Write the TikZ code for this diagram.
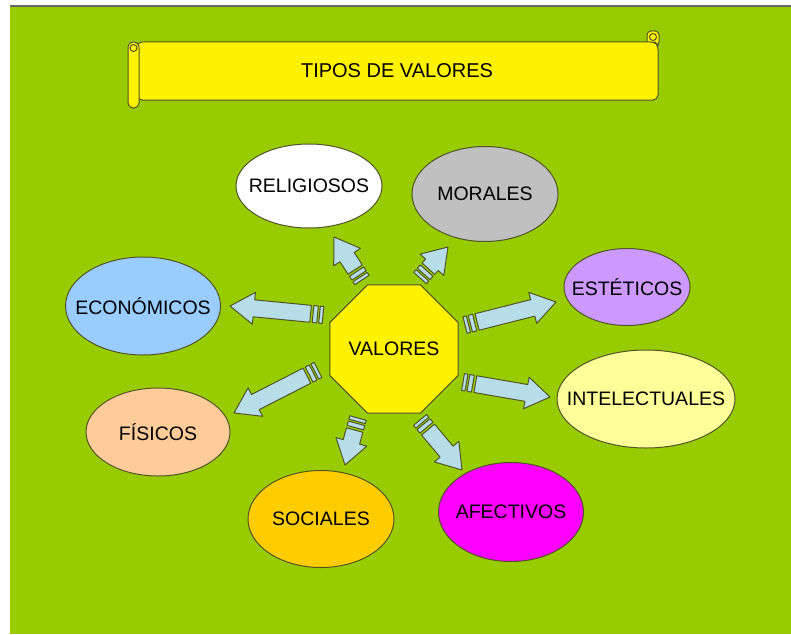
\documentclass[tikz,border=0pt]{standalone}
\usepackage{fontspec}
\setmainfont{Liberation Sans}
\usetikzlibrary{shapes.geometric,calc}

\definecolor{fondo}{RGB}{153,204,0}
\definecolor{borde}{RGB}{80,84,40}
\definecolor{celeste}{RGB}{183,222,232}
\definecolor{gris}{RGB}{192,192,192}
\definecolor{lila}{RGB}{204,153,255}
\definecolor{crema}{RGB}{255,255,153}
\definecolor{magenta}{RGB}{255,0,255}
\definecolor{naranja}{RGB}{255,204,0}
\definecolor{durazno}{RGB}{255,204,153}
\definecolor{azulito}{RGB}{153,204,255}

% flecha rayada: cola (#1) -> punta (#2)
\newcommand{\flecha}[2]{%
  \coordinate (#1s1) at ($(#1)!3.5pt!(#2)$);
  \coordinate (#1s2) at ($(#1)!5.5pt!(#2)$);
  \coordinate (#1s3) at ($(#1)!10pt!(#2)$);
  \coordinate (#1s4) at ($(#1)!12.5pt!(#2)$);
  \coordinate (#1hb) at ($(#2)!24pt!(#1)$);
  \draw[raya] ($(#1)!8.5pt!90:(#2)$) -- ($(#1s1)!8.5pt!90:(#2)$) -- ($(#1s1)!8.5pt!-90:(#2)$) -- ($(#1)!8.5pt!-90:(#2)$) -- cycle;
  \draw[raya] ($(#1s2)!8.5pt!90:(#2)$) -- ($(#1s3)!8.5pt!90:(#2)$) -- ($(#1s3)!8.5pt!-90:(#2)$) -- ($(#1s2)!8.5pt!-90:(#2)$) -- cycle;
  \draw[raya] ($(#1s4)!8.5pt!90:(#2)$) -- ($(#1hb)!8.5pt!90:(#2)$) -- ($(#1hb)!16pt!90:(#2)$) -- (#2)
    -- ($(#1hb)!16pt!-90:(#2)$) -- ($(#1hb)!8.5pt!-90:(#2)$) -- ($(#1s4)!8.5pt!-90:(#2)$) -- cycle;
}

\begin{document}
\begin{tikzpicture}[x=1pt,y=-1pt, font=\fontsize{19.5}{23}\selectfont,
  valor/.style={ellipse, draw=borde, line width=1pt, inner sep=0pt},
  raya/.style={fill=celeste, draw=borde, line width=1pt, line join=round},
  rollo/.style={fill=yellow, draw=borde, line width=1pt}]
\useasboundingbox (0,0) rectangle (791,634);
\fill[white] (0,0) rectangle (791,634);
\fill[fondo] (10,7) rectangle (791,634);
\draw[gray!80!black, line width=2pt] (10,6) -- (791,6);

% pergamino del titulo
\draw[rollo, rounded corners=4] (647,31) rectangle (659,46);
\draw[rollo] (653,37) circle (3.5);
\draw[rollo, rounded corners=5] (137,42) -- (655,42) -- (658,45) -- (658,100) -- (137,100) -- cycle;
\draw[rollo, rounded corners=5] (128,42) rectangle (139,108);
\draw[rollo] (133.5,48) circle (3.5);
\node[font=\fontsize{20}{24}\selectfont] (titulo) at (397,71) {TIPOS DE VALORES};

% centro
\node[regular polygon, regular polygon sides=8, minimum size=138, inner sep=0pt, fill=yellow, draw=borde,
  line width=1pt] (valores) at (394,349) {VALORES};

% tipos
\node[valor, fill=white, minimum width=146, minimum height=84, label=center:RELIGIOSOS] (religiosos) at (309,186) {};
\node[valor, fill=gris, minimum width=146, minimum height=95, label=center:MORALES] (morales) at (485,194) {};
\node[valor, fill=lila, minimum width=126, minimum height=77, label=center:ESTÉTICOS] (esteticos) at (627,287) {};
\node[valor, fill=crema, minimum width=178, minimum height=98, label=center:INTELECTUALES] (intelectuales) at (646,399) {};
\node[valor, fill=magenta, minimum width=145, minimum height=99, label=center:AFECTIVOS] (afectivos) at (511,512) {};
\node[valor, fill=naranja, minimum width=146, minimum height=97, label=center:SOCIALES] (sociales) at (321,519) {};
\node[valor, fill=durazno, minimum width=144, minimum height=88, label=center:FÍSICOS] (fisicos) at (158,432) {};
\node[valor, fill=azulito, minimum width=155, minimum height=98, label=center:ECONÓMICOS] (economicos) at (143,306) {};

% flechas
\coordinate (t1) at (362,280); \coordinate (h1) at (334,237);
\coordinate (t2) at (420,278); \coordinate (h2) at (448,247);
\coordinate (t3) at (323,315); \coordinate (h3) at (230,306);
\coordinate (t4) at (465,325); \coordinate (h4) at (556,302);
\coordinate (t5) at (463,382); \coordinate (h5) at (550,397);
\coordinate (t6) at (318,370); \coordinate (h6) at (234,413);
\coordinate (t7) at (358,418); \coordinate (h7) at (345,465);
\coordinate (t8) at (420,420); \coordinate (h8) at (462,470);
\flecha{t1}{h1}
\flecha{t2}{h2}
\flecha{t3}{h3}
\flecha{t4}{h4}
\flecha{t5}{h5}
\flecha{t6}{h6}
\flecha{t7}{h7}
\flecha{t8}{h8}
\end{tikzpicture}
\end{document}
